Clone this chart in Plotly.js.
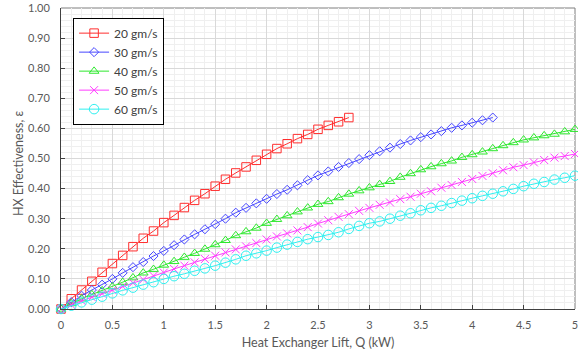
<!DOCTYPE html>
<html>
<head>
<meta charset="utf-8">
<script src="https://cdn.plot.ly/plotly-3.0.1.min.js"></script>
<style>html,body{margin:0;padding:0;background:#fff;}#chart{width:578px;height:358px;}</style>
</head>
<body>
<div id="chart"></div>
<script>
// Heat exchanger lift, Q (kW)
const Q = [0,0.1,0.2,0.3,0.4,0.5,0.6,0.7,0.8,0.9,1.0,1.1,1.2,1.3,1.4,1.5,1.6,1.7,1.8,1.9,2.0,2.1,2.2,2.3,2.4,2.5,2.6,2.7,2.8,2.9,3.0,3.1,3.2,3.3,3.4,3.5,3.6,3.7,3.8,3.9,4.0,4.1,4.2,4.3,4.4,4.5,4.6,4.7,4.8,4.9,5.0];

const seriesNames = ["20 gm/s","30 gm/s","40 gm/s","50 gm/s","60 gm/s"];

const eff20 = [0,0.034,0.063,0.092,0.122,0.151,0.178,0.207,0.235,0.259,0.287,0.311,0.337,0.361,0.383,0.408,0.431,0.452,0.472,0.494,0.514,0.533,0.549,0.566,0.580,0.597,0.610,0.622,0.636];
const eff30 = [0,0.023,0.044,0.063,0.081,0.100,0.120,0.139,0.156,0.176,0.193,0.212,0.231,0.248,0.265,0.282,0.300,0.320,0.336,0.351,0.366,0.382,0.396,0.411,0.428,0.444,0.457,0.472,0.485,0.498,0.511,0.524,0.536,0.548,0.560,0.571,0.580,0.591,0.602,0.610,0.619,0.627,0.636];
const eff40 = [0,0.018,0.034,0.048,0.061,0.074,0.089,0.104,0.120,0.132,0.146,0.158,0.172,0.185,0.199,0.214,0.228,0.244,0.257,0.269,0.285,0.298,0.310,0.323,0.336,0.348,0.357,0.370,0.382,0.393,0.403,0.414,0.424,0.438,0.450,0.463,0.473,0.483,0.492,0.504,0.513,0.522,0.533,0.543,0.553,0.562,0.569,0.576,0.581,0.589,0.597];
const eff50 = [0,0.014,0.027,0.039,0.051,0.063,0.075,0.087,0.098,0.110,0.121,0.133,0.144,0.155,0.166,0.177,0.188,0.198,0.208,0.219,0.231,0.241,0.251,0.261,0.272,0.284,0.295,0.306,0.315,0.326,0.336,0.346,0.354,0.365,0.373,0.383,0.391,0.403,0.412,0.422,0.432,0.442,0.451,0.461,0.471,0.478,0.487,0.495,0.503,0.508,0.515];
const eff60 = [0,0.011,0.022,0.031,0.041,0.052,0.062,0.071,0.081,0.089,0.100,0.109,0.117,0.127,0.135,0.144,0.154,0.165,0.177,0.185,0.194,0.204,0.214,0.223,0.232,0.239,0.246,0.255,0.266,0.276,0.285,0.291,0.300,0.310,0.318,0.328,0.336,0.343,0.352,0.360,0.368,0.376,0.383,0.391,0.399,0.408,0.416,0.422,0.430,0.436,0.443];

const yTickVals = [0,0.1,0.2,0.3,0.4,0.5,0.6,0.7,0.8,0.9,1.0];
const xTickVals = [0,0.5,1,1.5,2,2.5,3,3.5,4,4.5,5];

const effs = [eff20, eff30, eff40, eff50, eff60];
const colors = ["#FF2E2E","#4747FF","#2EE82E","#FF3DFF","#2EF0F0"];
const symbols = ["square-open","diamond-open","triangle-up-open","x-thin-open","circle-open"];
const sizes = [8.5,7,8.5,8,9.5];

const traces = effs.map((e,i)=>({
  x: Q.slice(0, e.length),
  y: e,
  name: seriesNames[i],
  legendgroup: "g"+i,
  type: "scatter",
  mode: "lines+markers",
  cliponaxis: false,
  line: {color: colors[i], width: 1},
  marker: {symbol: symbols[i], size: sizes[i], color: colors[i], line: {color: colors[i], width: 1}}
}));

const font = "Lato, 'Open Sans', sans-serif";
const layout = {
  width: 578, height: 358,
  margin: {l: 61, r: 3, t: 8, b: 49},
  paper_bgcolor: "#fff", plot_bgcolor: "#fff",
  font: {family: font, size: 11, color: "#595959"},
  showlegend: true,
  legend: {
    x: 0.0235, y: 0.968, xanchor: "left", yanchor: "top",
    bgcolor: "#fff", bordercolor: "#000", borderwidth: 1,
    font: {family: font, size: 12, color: "#404040"},
    tracegroupgap: 0, itemwidth: 30
  },
  xaxis: {
    range: [0,5], tickvals: xTickVals, ticktext: xTickVals.map(String),
    ticks: "inside", ticklen: 4, tickcolor: "#404040",
    showline: true, linecolor: "#404040", linewidth: 1,
    showgrid: true, gridcolor: "#d9d9d9", gridwidth: 1,
    minor: {dtick: 0.1, showgrid: true, gridcolor: "#efefef", gridwidth: 1},
    zeroline: false, ticklabelstandoff: 6, ticklabeloverflow: "allow",
    tickfont: {family: font, size: 11, color: "#595959"},
    title: {text: "Heat Exchanger Lift, Q (kW)", font: {family: font, size: 12.5, color: "#595959"}, standoff: 8}
  },
  yaxis: {
    range: [0,1], tickvals: yTickVals, tickformat: ".2f",
    ticks: "inside", ticklen: 4, tickcolor: "#404040",
    showline: true, linecolor: "#404040", linewidth: 1,
    showgrid: true, gridcolor: "#d9d9d9", gridwidth: 1,
    minor: {dtick: 0.02, showgrid: true, gridcolor: "#efefef", gridwidth: 1},
    zeroline: false, ticklabelstandoff: 8,
    tickfont: {family: font, size: 11, color: "#595959"}
  },
  annotations: [
    {text: "HX Effectiveness, ε", xref: "paper", yref: "paper", x: -0.0837, y: 0.485,
     xanchor: "center", yanchor: "middle", textangle: -90, showarrow: false,
     font: {family: font, size: 12.5, color: "#595959"}}
  ],
  shapes: [
    {type: "line", xref: "paper", yref: "paper", x0: 0, x1: 1, y0: 1, y1: 1, line: {color: "#7f7f7f", width: 1}, layer: "below"},
    {type: "line", xref: "paper", yref: "paper", x0: 1, x1: 1, y0: 0, y1: 1, line: {color: "#7f7f7f", width: 1}, layer: "below"}
  ]
};

Plotly.newPlot("chart", traces, layout, {displayModeBar: false, staticPlot: true});
</script>
</body>
</html>
